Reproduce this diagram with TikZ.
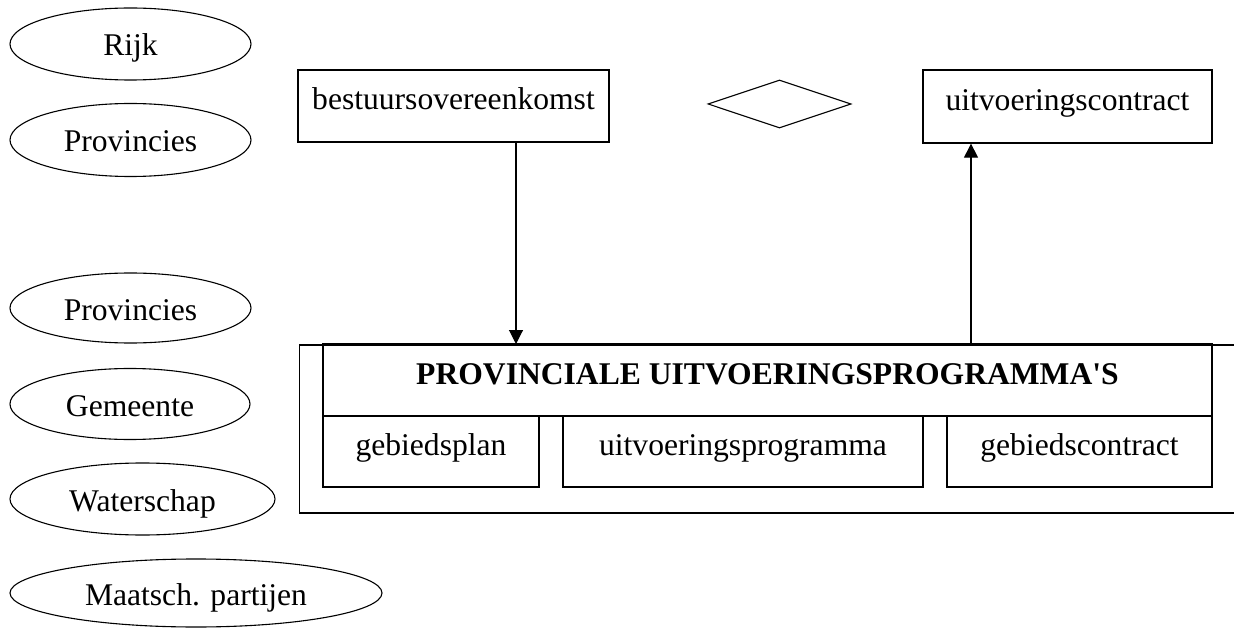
\documentclass[tikz,border=0pt]{standalone}
\usepackage{fontspec}
\setmainfont{Liberation Serif}
\usetikzlibrary{shapes.geometric,arrows.meta,calc}
\begin{document}
\begin{tikzpicture}[x=1pt,y=-1pt,
  every node/.style={font=\fontsize{31.6}{38}\selectfont},
  party/.style={ellipse,draw,line width=1.1pt,inner sep=0pt,text height=24pt,text depth=0pt},
  docbox/.style={rectangle,draw,line width=1.3pt,inner sep=0pt,text height=22pt,text depth=14pt},
  link/.style={line width=1.1pt,-{Triangle[width=14pt,length=14pt]}}
]
\useasboundingbox (0,0) rectangle (1234,628);
\clip (0,0) rectangle (1234,628);
% parties
\node[party,minimum width=241pt,minimum height=72pt] (rijk) at (130.5,44) {Rijk};
\node[party,minimum width=241pt,minimum height=73pt] (prov1) at (130.5,140) {Provincies};
\node[party,minimum width=241pt,minimum height=70pt] (prov2) at (130.5,308) {Provincies};
\node[party,minimum width=240pt,minimum height=71pt] (gem) at (130,404) {Gemeente};
\node[party,minimum width=265pt,minimum height=72pt] (water) at (142.5,499) {Waterschap};
\node[party,minimum width=372pt,minimum height=68pt] (maats) at (196,593) {Maatsch. partijen};
% top row
\node[docbox,minimum width=311pt,minimum height=72pt] (best) at (453.5,106) {bestuursovereenkomst};
\node[diamond,draw,line width=1.1pt,inner sep=0pt,minimum width=143pt,minimum height=48pt] (dia) at (779.5,104) {};
\node[docbox,minimum width=289pt,minimum height=73pt] (uc) at (1067.5,106.5) {uitvoeringscontract};
% programme block
\node[rectangle,draw,line width=1.5pt,anchor=north west,minimum width=980pt,minimum height=168pt,inner sep=0pt] (outer) at (298.5,344) {};
\node[docbox,minimum width=889pt,minimum height=72pt] (head) at (767.5,380) {\bfseries PROVINCIALE UITVOERINGSPROGRAMMA\textquotesingle S};
\node[docbox,minimum width=216pt,minimum height=71pt] (gp) at (431,451.5) {gebiedsplan};
\node[docbox,minimum width=360pt,minimum height=71pt] (up) at (743,451.5) {uitvoeringsprogramma};
\node[docbox,minimum width=265pt,minimum height=71pt] (gc) at (1079.5,451.5) {gebiedscontract};
% connectors
\coordinate (a1) at (516,142);
\coordinate (a2) at (971,344);
\draw[link] (a1) -- (a1 |- outer.north);
\draw[link] (a2) -- (a2 |- uc.south);
\end{tikzpicture}
\end{document}
